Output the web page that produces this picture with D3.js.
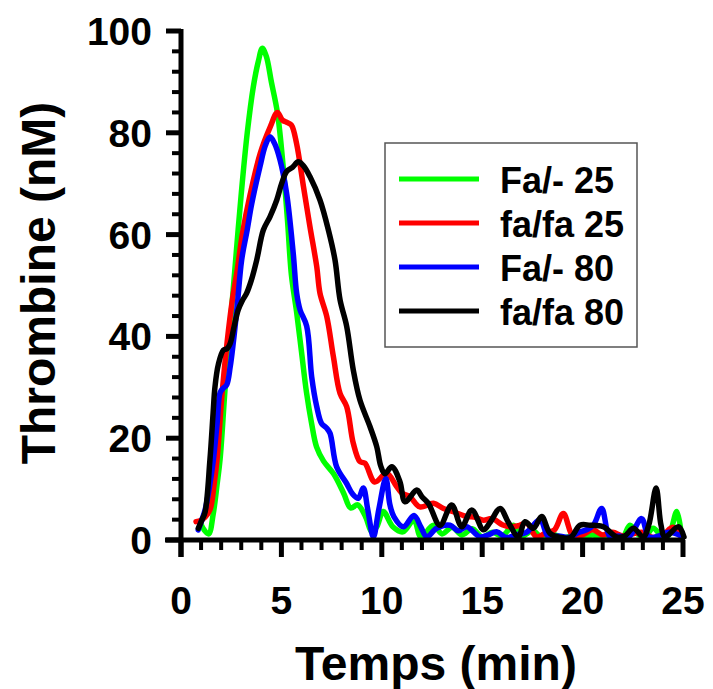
<!DOCTYPE html>
<html>
<head>
<meta charset="utf-8">
<script src="https://cdn.jsdelivr.net/npm/d3@7"></script>
<style>
html,body{margin:0;padding:0;background:#fff;}
svg{display:block;}
text{font-family:"Liberation Sans",Arial,Helvetica,sans-serif;font-weight:bold;fill:#000;}
</style>
</head>
<body>
<svg id="chart" width="713" height="689"></svg>
<script>
// ---- data ----
const seriesNames = ["Fa/- 25", "fa/fa 25", "Fa/- 80", "fa/fa 80"];
const seriesColors = ["#00ff00", "#ff0000", "#0000ff", "#000000"];
const xTicks = [0, 5, 10, 15, 20, 25];
const yTicks = [0, 20, 40, 60, 80, 100];

const faMinus25 = [[0.95,3.5],[1.15,2.0],[1.38,1.2],[1.6,5],[1.8,11],[1.95,16],[2.2,30],[2.45,42],[2.7,54],[3.0,68],[3.3,80],[3.6,89],[3.85,94],[4.05,96.6],[4.25,95],[4.5,90],[4.8,84],[5.05,75],[5.3,63],[5.5,52],[5.75,45],[6.0,37],[6.25,29],[6.5,23],[6.75,18.3],[7.1,15.5],[7.6,13],[8.1,9.2],[8.45,6.3],[8.8,6.9],[9.2,4.5],[9.5,1.6],[9.75,2.6],[10.07,5.6],[10.55,2.6],[11.05,1.6],[11.6,3.9],[11.95,0.6],[12.57,2.9],[13.0,1.2],[13.5,2.5],[14.0,1.0],[14.5,2.2],[15.0,0.6],[15.5,1.5],[16.0,0.8],[16.55,2.9],[17.0,0.8],[17.5,1.8],[18.0,0.5],[18.5,1.2],[19.0,0.4],[19.5,0.8],[20.0,0.5],[20.5,1.0],[21.0,0.5],[21.5,0.8],[22.0,0.6],[22.36,2.9],[22.8,1.0],[23.1,0.6],[23.52,2.3],[24.0,0.5],[24.3,1.0],[24.69,5.6],[24.93,0.6]];

const faFa25 = [[0.75,3.6],[1.0,3.9],[1.2,4.5],[1.45,6],[1.65,11],[1.8,16],[2.05,29],[2.3,39],[2.55,47],[2.8,53],[3.05,60],[3.45,68],[3.95,76],[4.45,81.2],[4.8,84],[5.05,82.5],[5.3,82],[5.5,81.5],[5.75,78],[6.1,69.4],[6.42,61.6],[6.76,53.7],[6.92,48.5],[7.26,43.9],[7.59,36],[7.92,28.8],[8.25,26.2],[8.58,19],[8.91,15.4],[9.16,15.1],[9.65,11.4],[10.24,13.1],[10.74,10.5],[11.0,9.2],[11.4,8.5],[11.9,6.5],[12.57,7.2],[13.07,6.2],[13.6,5.5],[14.23,4.6],[14.6,4.5],[15.06,3.9],[15.5,4.2],[16.0,3.0],[16.38,2.6],[16.8,2.8],[17.22,3.3],[17.71,0.6],[18.2,1.5],[18.6,2.0],[19.04,5.2],[19.54,0.6],[20.0,1.0],[20.5,2.0],[21.0,1.0],[21.5,1.5],[22.0,0.8],[22.5,1.2],[23.0,1.5],[23.5,0.5],[24.0,1.0],[24.5,2.5],[24.9,0.8]];

const faMinus80 = [[0.86,2],[1.0,3.5],[1.2,5.9],[1.4,10],[1.61,15.7],[1.8,23],[1.95,29],[2.1,29.8],[2.28,30.5],[2.45,34],[2.6,38.6],[2.8,46],[3.02,55],[3.3,61],[3.52,66],[3.93,73.3],[4.2,77.5],[4.43,79.2],[4.65,78],[4.93,74.7],[5.26,68.1],[5.59,56.3],[5.76,48.5],[5.93,45.2],[6.26,42],[6.51,32],[6.76,26.2],[7.0,22.9],[7.25,22],[7.42,21],[7.75,14.4],[8.25,11.1],[8.55,9],[8.83,8.2],[9.08,10.2],[9.3,6],[9.58,0.6],[9.85,6],[10.2,12.1],[10.4,7],[10.6,4.6],[11.07,2.6],[11.6,4.8],[11.95,2.5],[12.24,0.6],[12.73,2.3],[13.4,2.9],[13.8,1.8],[14.23,2.6],[14.89,0.6],[15.3,1.0],[15.72,1.6],[16.2,0.5],[16.7,1.0],[17.2,1.5],[17.88,3.9],[18.3,0.6],[18.8,0.8],[19.3,0.5],[19.8,1.5],[20.2,2.0],[20.55,3],[20.95,6.2],[21.36,0.6],[21.8,0.8],[22.3,0.6],[22.94,4.2],[23.3,0.6],[23.8,0.8],[24.3,1.5],[24.9,0.8]];

const faFa80 = [[0.86,2.3],[1.05,4],[1.2,5.5],[1.44,15.7],[1.6,25],[1.69,30],[1.86,34.5],[2.11,37.3],[2.3,37.6],[2.44,38.5],[2.65,42],[2.85,45.2],[3.05,47],[3.27,48.5],[3.5,51],[3.77,55],[4.1,60.9],[4.43,63.5],[4.77,66.8],[5.01,70],[5.26,72.4],[5.55,73.2],[5.84,74.3],[6.1,73.5],[6.42,71.4],[6.92,66.8],[7.34,60.9],[7.67,55],[7.92,47.2],[8.25,42],[8.58,33.4],[8.91,27.5],[9.41,22.3],[9.75,18.3],[9.95,14.5],[10.15,13],[10.5,14.4],[10.9,11.5],[11.16,7.5],[11.74,9.8],[12.0,8.5],[12.32,7.2],[12.9,2.9],[13.48,6.9],[13.98,2.6],[14.48,5.9],[15.06,2.0],[15.4,3.5],[15.89,6.2],[16.3,3.5],[16.8,0.6],[17.13,3.6],[17.55,2.3],[17.96,4.6],[18.38,1.3],[18.9,0.5],[19.4,0.5],[19.87,2.9],[20.37,2.9],[21.03,2.6],[21.7,0.6],[22.1,0.8],[22.53,2.3],[23.02,0.6],[23.3,3],[23.66,10.2],[23.9,3],[24.1,0.6],[24.77,2.6],[25.05,0.6]];

const allSeries = [faMinus25, faFa25, faMinus80, faFa80];

// ---- layout ----
const svg = d3.select("#chart");
const x = d3.scaleLinear().domain([0, 25]).range([181, 683]);
const y = d3.scaleLinear().domain([0, 100]).range([540, 31]);

// curves (drawn first, axes on top)
const line = d3.line()
  .x(d => x(d[0]))
  .y(d => y(d[1]))
  .curve(d3.curveCatmullRom.alpha(0.5));

svg.append("g").selectAll("path")
  .data(allSeries)
  .join("path")
  .attr("d", line)
  .attr("fill", "none")
  .attr("stroke", (d, i) => seriesColors[i])
  .attr("stroke-width", 5.5)
  .attr("stroke-linejoin", "round")
  .attr("stroke-linecap", "round");

// x axis
const xMinor = d3.range(0, 26, 1).filter(v => v % 5 !== 0);
const gx = svg.append("g");
gx.append("line").attr("x1", x(0) - 16).attr("x2", x(25) + 2)
  .attr("y1", y(0)).attr("y2", y(0)).attr("stroke", "#000").attr("stroke-width", 5);
gx.selectAll("line.maj").data(xTicks).join("line").attr("class", "maj")
  .attr("x1", d => x(d)).attr("x2", d => x(d))
  .attr("y1", y(0)).attr("y2", y(0) + 17)
  .attr("stroke", "#000").attr("stroke-width", 5);
gx.selectAll("line.min").data(xMinor).join("line").attr("class", "min")
  .attr("x1", d => x(d)).attr("x2", d => x(d))
  .attr("y1", y(0)).attr("y2", y(0) + 10)
  .attr("stroke", "#000").attr("stroke-width", 4);
gx.selectAll("text").data(xTicks).join("text")
  .attr("x", d => x(d)).attr("y", 614)
  .attr("text-anchor", "middle")
  .attr("font-size", 39)
  .text(d => d);

// y axis
const yMinor = d3.range(0, 101, 4).filter(v => v % 20 !== 0);
const gy = svg.append("g");
gy.append("line").attr("x1", x(0)).attr("x2", x(0))
  .attr("y1", y(0) + 17).attr("y2", y(100) - 2).attr("stroke", "#000").attr("stroke-width", 5);
gy.selectAll("line.maj").data(yTicks).join("line").attr("class", "maj")
  .attr("x1", x(0) - 15).attr("x2", x(0))
  .attr("y1", d => y(d)).attr("y2", d => y(d))
  .attr("stroke", "#000").attr("stroke-width", 5);
gy.selectAll("line.min").data(yMinor).join("line").attr("class", "min")
  .attr("x1", x(0) - 9).attr("x2", x(0))
  .attr("y1", d => y(d)).attr("y2", d => y(d))
  .attr("stroke", "#000").attr("stroke-width", 4);
gy.selectAll("text").data(yTicks).join("text")
  .attr("x", 152).attr("y", d => y(d) + 14)
  .attr("text-anchor", "end")
  .attr("font-size", 39)
  .text(d => d);

// axis titles
svg.append("text")
  .attr("x", 436).attr("y", 680)
  .attr("text-anchor", "middle")
  .attr("font-size", 48)
  .text("Temps (min)");
svg.append("text")
  .attr("transform", "translate(55,283) rotate(-90)")
  .attr("text-anchor", "middle")
  .attr("font-size", 48)
  .text("Thrombine (nM)");

// legend
const lg = svg.append("g");
lg.append("rect").attr("x", 385).attr("y", 143).attr("width", 252).attr("height", 204)
  .attr("fill", "#fff").attr("stroke", "#555").attr("stroke-width", 1.5);
const rows = lg.selectAll("g.row").data(seriesNames).join("g").attr("class", "row")
  .attr("transform", (d, i) => `translate(0,${179 + i * 44})`);
rows.append("line").attr("x1", 399).attr("x2", 479).attr("y1", 0).attr("y2", 0)
  .attr("stroke", (d, i) => seriesColors[i]).attr("stroke-width", 5);
rows.append("text").attr("x", 500).attr("y", 14)
  .attr("font-size", 36)
  .text(d => d);
</script>
</body>
</html>
